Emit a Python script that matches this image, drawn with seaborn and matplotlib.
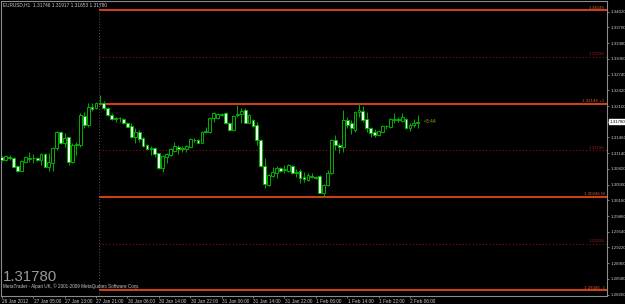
import matplotlib
matplotlib.use("Agg")
import matplotlib.pyplot as plt
import matplotlib.transforms as mtransforms
import numpy as np
import pandas as pd
import seaborn as sns

# ---------------- data ----------------
title_text = "EURUSD,H1  1.31746 1.31917 1.31653 1.31780"
big_price_text = "1.31780"
footer_text = "MetaTrader - Alpari UK, \u00a9 2001-2009 MetaQuotes Software Corp."
timer_text = "<3:44"
current_price = 1.31780

open_ = [1.31068, 1.31000, 1.31068, 1.31048, 1.30878, 1.30783, 1.30966, 1.31030, 1.31034, 1.31041,
         1.31000, 1.31115, 1.30851, 1.30946, 1.31238, 1.31563, 1.31339, 1.31462, 1.30966, 1.31315,
         1.31306, 1.31896, 1.31713, 1.32086, 1.32052, 1.32154, 1.32154, 1.32052, 1.31916, 1.31842,
         1.31855, 1.31835, 1.31760, 1.31692, 1.31462, 1.31563, 1.31455, 1.31306, 1.31231, 1.31251,
         1.31136, 1.30830, 1.31068, 1.31102, 1.31190, 1.31272, 1.31234, 1.31217, 1.31272, 1.31410,
         1.31407, 1.31353, 1.31577, 1.31577, 1.31848, 1.31848, 1.31925, 1.31950, 1.31760, 1.31611,
         1.31925, 1.31930, 1.32018, 1.31760, 1.31815, 1.31713, 1.31407, 1.30878, 1.30491, 1.30674,
         1.30742, 1.30830, 1.30805, 1.30783, 1.30878, 1.30745, 1.30783, 1.30661, 1.30593, 1.30657,
         1.30643, 1.30681, 1.30335, 1.30491, 1.30729, 1.31407, 1.31299, 1.31272, 1.31815, 1.31747,
         1.31611, 1.31971, 1.32005, 1.31828, 1.31645, 1.31563, 1.31502, 1.31577, 1.31688, 1.31665,
         1.31824, 1.31832, 1.31801, 1.31828, 1.31645, 1.31713, 1.31746]
high = [1.31088, 1.31102, 1.31102, 1.31068, 1.30898, 1.31000, 1.31082, 1.31170, 1.31122, 1.31068,
        1.31149, 1.31136, 1.31136, 1.31272, 1.31597, 1.31584, 1.31543, 1.31475, 1.31339, 1.31373,
        1.31950, 1.31984, 1.32167, 1.32154, 1.32187, 1.32324, 1.32208, 1.32072, 1.31950, 1.31869,
        1.31869, 1.31848, 1.31781, 1.31760, 1.31645, 1.31611, 1.31475, 1.31326, 1.31285, 1.31272,
        1.31149, 1.31102, 1.31136, 1.31238, 1.31373, 1.31306, 1.31292, 1.31306, 1.31441, 1.31441,
        1.31421, 1.31597, 1.31679, 1.31869, 1.31971, 1.31964, 1.31964, 1.31971, 1.31781, 1.31916,
        1.32120, 1.32052, 1.32052, 1.31937, 1.31828, 1.31781, 1.31421, 1.31034, 1.30708, 1.30851,
        1.30878, 1.30851, 1.30898, 1.30918, 1.30898, 1.30810, 1.30810, 1.30763, 1.30742, 1.30742,
        1.30681, 1.30695, 1.30511, 1.30797, 1.31421, 1.31509, 1.31339, 1.32018, 1.31882, 1.31815,
        1.32005, 1.32167, 1.32100, 1.31984, 1.31679, 1.31625, 1.31611, 1.31713, 1.31713, 1.31848,
        1.31950, 1.31869, 1.31950, 1.31848, 1.31760, 1.31828, 1.31917]
low = [1.30980, 1.30987, 1.31000, 1.30851, 1.30763, 1.30770, 1.30932, 1.30966, 1.30946, 1.30973,
       1.30898, 1.30851, 1.30783, 1.30783, 1.31204, 1.31326, 1.31272, 1.30898, 1.30932, 1.31102,
       1.31272, 1.31645, 1.31679, 1.32005, 1.32032, 1.32120, 1.32018, 1.31896, 1.31815, 1.31781,
       1.31781, 1.31733, 1.31665, 1.31441, 1.31339, 1.31373, 1.31272, 1.31204, 1.31102, 1.31054,
       1.30810, 1.30763, 1.30932, 1.31082, 1.31170, 1.31122, 1.31170, 1.31170, 1.31258, 1.31373,
       1.31339, 1.31339, 1.31543, 1.31557, 1.31781, 1.31828, 1.31896, 1.31733, 1.31597, 1.31597,
       1.31882, 1.31747, 1.31747, 1.31747, 1.31679, 1.31306, 1.30851, 1.30423, 1.30471, 1.30661,
       1.30627, 1.30763, 1.30729, 1.30763, 1.30715, 1.30661, 1.30525, 1.30559, 1.30579, 1.30627,
       1.30620, 1.30322, 1.30254, 1.30471, 1.30715, 1.31204, 1.31136, 1.31170, 1.31645, 1.31530,
       1.31577, 1.31882, 1.31781, 1.31577, 1.31475, 1.31475, 1.31489, 1.31563, 1.31625, 1.31645,
       1.31747, 1.31781, 1.31781, 1.31625, 1.31597, 1.31679, 1.31653]
close = [1.31000, 1.31082, 1.31034, 1.30864, 1.30783, 1.30987, 1.31054, 1.31038, 1.31040, 1.31000,
         1.31122, 1.30864, 1.30966, 1.31238, 1.31563, 1.31339, 1.31441, 1.30966, 1.31306, 1.31322,
         1.31916, 1.31713, 1.32072, 1.32032, 1.32167, 1.32170, 1.32052, 1.31916, 1.31828, 1.31850,
         1.31855, 1.31747, 1.31679, 1.31462, 1.31577, 1.31428, 1.31285, 1.31224, 1.31240, 1.31122,
         1.30830, 1.31082, 1.31122, 1.31217, 1.31292, 1.31231, 1.31242, 1.31285, 1.31421, 1.31400,
         1.31353, 1.31577, 1.31597, 1.31848, 1.31950, 1.31930, 1.31935, 1.31747, 1.31611, 1.31896,
         1.31935, 1.32005, 1.31760, 1.31916, 1.31699, 1.31407, 1.30878, 1.30511, 1.30695, 1.30763,
         1.30830, 1.30783, 1.30815, 1.30898, 1.30729, 1.30753, 1.30627, 1.30606, 1.30695, 1.30665,
         1.30651, 1.30335, 1.30491, 1.30729, 1.31407, 1.31306, 1.31272, 1.31815, 1.31713, 1.31645,
         1.31984, 1.32018, 1.31815, 1.31645, 1.31557, 1.31502, 1.31597, 1.31699, 1.31696, 1.31828,
         1.31832, 1.31824, 1.31869, 1.31645, 1.31713, 1.31747, 1.31780]

time_labels = ["26 Jan 2012", "27 Jan 05:00", "27 Jan 13:00", "27 Jan 21:00", "30 Jan 06:00",
               "30 Jan 14:00", "30 Jan 22:00", "31 Jan 06:00", "31 Jan 14:00", "31 Jan 22:00",
               "1 Feb 06:00", "1 Feb 14:00", "1 Feb 22:00", "2 Feb 06:00"]
time_label_step = 8

price_ticks = [1.34020, 1.33700, 1.33380, 1.33060, 1.32740, 1.32420, 1.32100, 1.31780, 1.31460,
               1.31140, 1.30820, 1.30500, 1.30180, 1.29860, 1.29540, 1.29220, 1.28900, 1.28580,
               1.28260]

level_values = [1.34046, 1.33096, 1.32146, 1.31196, 1.30246, 1.29296, 1.28346]
level_labels = ["1.34046", "1.33096", "1.32146 +1", "1.31196", "1.30246 M", "1.29296", "1.28346 -1"]
level_solid = [True, False, True, False, True, False, True]
level_start_bar = 24.8

# ---------------- style ----------------
sns.set_theme(style="dark", rc={"axes.facecolor": "black", "figure.facecolor": "black"})
plt.rcParams["font.family"] = ["Liberation Sans", "DejaVu Sans"]

GREEN = "#00b000"
BEAR_FILL = "#e8ffe8"
AXIS_GRAY = "#8c8c8c"
TEXT_GRAY = "#c8c8c8"
ORANGE = "#d4401a"
DARKRED = "#8b1010"

df = pd.DataFrame({"open": open_, "high": high, "low": low, "close": close})
df["bar"] = np.arange(len(df))
df["up"] = df["close"] >= df["open"]
df["body_low"] = df[["open", "close"]].min(axis=1)
df["body_h"] = (df["close"] - df["open"]).abs().clip(lower=0.00004)

fig = plt.figure(figsize=(6.25, 3.04), dpi=100)
ax = fig.add_axes([1 / 625, 8 / 304, 606 / 625, 295 / 304])
ax.set_facecolor("black")
ax.grid(False)

xmin, xmax = -0.2, 154.2
ax.set_xlim(xmin, xmax)
ax.set_ylim(1.282316, 1.342378)

# vertical dotted marker
ax.axvline(level_start_bar, color="#5a5a5a", lw=0.7, ls=(0, (1, 2)), zorder=1)

# levels
for v, lab, solid in zip(level_values, level_labels, level_solid):
    if solid:
        ax.hlines(v, level_start_bar, xmax, color=ORANGE, lw=1.4, zorder=1)
        col = "#d85a30"
    else:
        ax.hlines(v, level_start_bar, xmax, color=DARKRED, lw=0.8, ls=(0, (1, 2)), zorder=1)
        col = "#a01818"
    ax.text(153.6, v + 0.00012, lab, color=col, fontsize=3.2, ha="right", va="bottom", zorder=5)

# candles
ax.vlines(df["bar"], df["low"], df["high"], color=GREEN, lw=0.7, zorder=2)
up = df[df["up"]]
dn = df[~df["up"]]
ax.bar(up["bar"], up["body_h"], bottom=up["body_low"], width=0.72, color="black",
       edgecolor=GREEN, linewidth=0.7, zorder=3)
ax.bar(dn["bar"], dn["body_h"], bottom=dn["body_low"], width=0.72, color=BEAR_FILL,
       edgecolor=GREEN, linewidth=0.7, zorder=3)

# timer text
ax.text(df["bar"].iloc[-1] + 1.5, current_price + 0.00005, timer_text, color="#9a9a10",
        fontsize=3.6, ha="left", va="center", zorder=5)

# axes
ax.yaxis.tick_right()
ax.set_yticks(price_ticks)
ax.set_yticklabels([f"{t:.5f}" for t in price_ticks])
ax.tick_params(axis="y", which="both", right=True, left=False, length=1.5, width=0.6,
               color=AXIS_GRAY, labelcolor=TEXT_GRAY, labelsize=3.2, pad=0.8)
ticks_x = list(range(0, time_label_step * len(time_labels), time_label_step))
ax.set_xticks(ticks_x)
ax.set_xticklabels(time_labels, ha="left")
ax.tick_params(axis="x", which="both", bottom=True, length=1.5, width=0.6, color=AXIS_GRAY,
               labelcolor=TEXT_GRAY, labelsize=3.4, pad=0.8)
for lab in ax.get_xticklabels():
    lab.set_transform(lab.get_transform() + mtransforms.ScaledTranslation(0.5 / 100, 0, fig.dpi_scale_trans))
for s in ax.spines.values():
    s.set_color(AXIS_GRAY)
    s.set_linewidth(0.8)

# current price box
trans = mtransforms.blended_transform_factory(ax.transAxes, ax.transData)
ax.text(1.0045, current_price, f"{current_price:.5f}", transform=trans, color="black",
        fontsize=3.2, ha="left", va="center",
        bbox=dict(boxstyle="square,pad=0.15", fc="white", ec="white"), zorder=6, clip_on=False)

# overlay texts
ax.text(0.0035, 0.986, title_text, transform=ax.transAxes, color=TEXT_GRAY, fontsize=3.4,
        ha="left", va="center")
fig.text(3 / 625, 1 - 281 / 304, big_price_text, color="#9a9a9a", fontsize=10.8,
         ha="left", va="baseline")
fig.text(3 / 625, 1 - 286 / 304, footer_text, color=TEXT_GRAY, fontsize=3.3,
         ha="left", va="center")

fig.savefig("out.png", dpi=100, facecolor="black")
